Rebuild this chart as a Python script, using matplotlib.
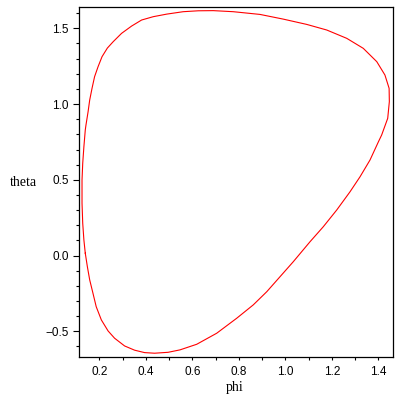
import matplotlib
matplotlib.use("Agg")
import matplotlib.pyplot as plt
from matplotlib.ticker import MultipleLocator, FuncFormatter

plt.rcParams["font.family"] = ["Liberation Serif", "DejaVu Serif"]

# closed curve (phi, theta)
phi = [0.140, 0.134, 0.129, 0.126, 0.126, 0.129, 0.134, 0.140, 0.143, 0.152,
       0.159, 0.169, 0.180, 0.195, 0.212, 0.235, 0.260, 0.296, 0.339, 0.382,
       0.432, 0.490, 0.561, 0.626, 0.690, 0.776, 0.891, 0.991, 1.092, 1.178,
       1.264, 1.335, 1.393, 1.428, 1.446, 1.447, 1.440, 1.414, 1.400, 1.364,
       1.321, 1.278, 1.221, 1.163, 1.106, 1.034, 0.977, 0.920, 0.862, 0.791,
       0.705, 0.619, 0.547, 0.496, 0.438, 0.395, 0.352, 0.309, 0.266, 0.238,
       0.209, 0.187, 0.173, 0.159, 0.149, 0.140]
theta = [0.015, 0.103, 0.213, 0.345, 0.499, 0.609, 0.718, 0.829, 0.862, 0.949,
         1.027, 1.104, 1.181, 1.247, 1.313, 1.370, 1.412, 1.467, 1.515, 1.555,
         1.577, 1.594, 1.610, 1.616, 1.617, 1.610, 1.592, 1.561, 1.526, 1.489,
         1.434, 1.368, 1.280, 1.192, 1.104, 1.016, 0.906, 0.796, 0.751, 0.631,
         0.520, 0.421, 0.301, 0.190, 0.091, -0.041, -0.140, -0.239, -0.326, -0.414,
         -0.513, -0.586, -0.623, -0.639, -0.645, -0.641, -0.625, -0.597, -0.546, -0.498,
         -0.425, -0.338, -0.249, -0.161, -0.074, 0.015]

fig = plt.figure(figsize=(4, 4), dpi=100)
ax = fig.add_axes([0.1975, 0.1075, 0.784, 0.875])
ax.plot(phi, theta, color="red", lw=0.8)

ax.set_xlim(0.113, 1.461)
ax.set_ylim(-0.670, 1.641)
ax.xaxis.set_major_locator(MultipleLocator(0.2))
ax.xaxis.set_minor_locator(MultipleLocator(0.1))
ax.yaxis.set_major_locator(MultipleLocator(0.5))
ax.yaxis.set_minor_locator(MultipleLocator(0.1))
fmt = FuncFormatter(lambda v, pos: ("%.1f" % v).replace("-", "\u2212"))
ax.xaxis.set_major_formatter(fmt)
ax.yaxis.set_major_formatter(fmt)
ax.tick_params(axis="x", which="both", length=2.5, width=0.8, pad=4)
ax.tick_params(axis="y", which="major", length=4.5, width=0.8, pad=3)
ax.tick_params(axis="y", which="minor", length=2.2, width=0.8)
for lab in ax.get_xticklabels() + ax.get_yticklabels():
    lab.set_fontfamily("Liberation Sans")
    lab.set_fontsize(8.5)
for s in ax.spines.values():
    s.set_linewidth(0.9)

fig.text(0.5875, 0.03, "phi", ha="center", va="center", fontsize=10)
fig.text(0.059, 0.543, "theta", ha="center", va="center", fontsize=10)

fig.savefig("out.png", dpi=100)
